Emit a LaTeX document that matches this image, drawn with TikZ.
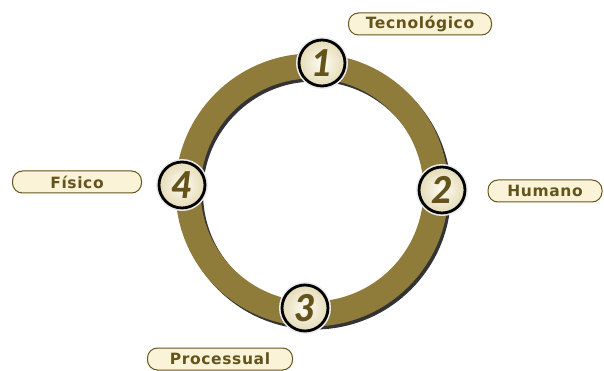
\documentclass[tikz,border=0pt]{standalone}
\usepackage{fontspec}
\setsansfont{DejaVu Sans}
\newfontfamily\heavyfont{Lato}[UprightFont=* Black, ItalicFont=* Black Italic, BoldFont=* Black, BoldItalicFont=* Black Italic]
\newfontfamily\tagfont{DejaVu Sans}[UprightFont=* Bold, LetterSpace=4]
\usetikzlibrary{shadows}

\definecolor{ringolive}{RGB}{143,123,58}
\definecolor{darkolive}{RGB}{100,84,28}
\definecolor{cream}{RGB}{250,243,215}
\definecolor{creamlight}{RGB}{255,253,244}

\tikzset{
  stage/.style={circle, minimum size=46pt, inner sep=0pt,
    draw=black, line width=2.8pt,
    inner color=creamlight, outer color=cream!80!ringolive,
    drop shadow={shadow xshift=2pt, shadow yshift=-2pt, opacity=0.35},
    preaction={draw=white!92!black, line width=6pt},
    font=\heavyfont\itshape\fontsize{37}{37}\selectfont, text=darkolive},
  tag/.style={rounded corners=10pt, draw=darkolive, line width=1pt,
    fill=cream, minimum height=22pt, inner sep=0pt,
    font=\tagfont\fontsize{15.5}{15.5}\selectfont, text=darkolive}
}

\begin{document}
\begin{tikzpicture}[x=1pt,y=-1pt,line join=round,line cap=round]

\useasboundingbox (0,0) rectangle (604,371);

% ring
\coordinate (c) at (312,190);
\draw[black, opacity=0.8, line width=25pt] (314.5,193) circle (124pt);
\draw[ringolive, line width=25pt] (c) circle (124pt);

% stages
\node[stage] (s1) at (322, 63) {1};
\node[stage] (s2) at (442,190) {2};
\node[stage] (s3) at (305,308) {3};
\node[stage] (s4) at (182,185) {4};

% labels
\node[tag, minimum width=143pt] (tec) at (420, 24) {Tecnológico};
\node[tag, minimum width=114pt] (hum) at (545,191) {Humano};
\node[tag, minimum width=145pt] (pro) at (220,359) {Processual};
\node[tag, minimum width=129pt] (fis) at ( 77,182) {Físico};

\end{tikzpicture}
\end{document}
